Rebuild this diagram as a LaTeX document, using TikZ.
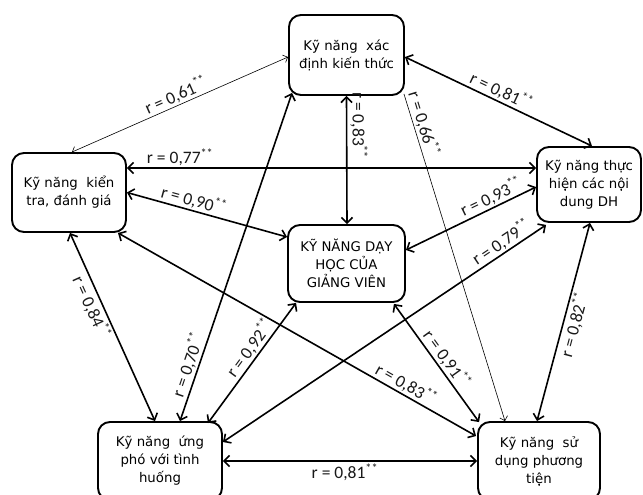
\documentclass[tikz,border=0pt]{standalone}
\usepackage{fontspec}
\setmainfont{DejaVu Sans}
\newfontfamily\labelfont{Carlito}
\usetikzlibrary{arrows.meta,calc}

\begin{document}
\begin{tikzpicture}[x=1pt,y=-1pt,
  box/.style={draw, line width=1.9pt, rounded corners=12pt, align=center,
    font=\fontsize{13.3}{18}\selectfont, inner sep=0pt},
  link/.style={line width=1.6pt, {Straight Barb[length=5.5pt,width=11pt]}-{Straight Barb[length=5.5pt,width=11pt]}},
  thinlinkboth/.style={line width=0.6pt, {Straight Barb[length=4pt,width=8pt]}-{Straight Barb[length=4pt,width=8pt]}},
  thinlinkone/.style={line width=0.6pt, -{Straight Barb[length=4pt,width=8pt]}},
  rlab/.style={font=\labelfont\fontsize{17.5}{17.5}\selectfont, sloped, inner sep=1.5pt, text=black!90}
]
% canvas
\fill[white] (0,0) rectangle (643,495);
\useasboundingbox (0,0) rectangle (643,495);

% skill boxes
\node[box, minimum width=115pt, minimum height=80pt] (T) at (346.5,55)
  {Kỹ năng\ \ xác\\định kiến thức};
\node[box, minimum width=114pt, minimum height=79pt] (L) at (69,192.5)
  {Kỹ năng\ \ kiển\\tra, đánh giá};
\node[box, minimum width=104pt, minimum height=75pt] (R) at (589,184.5)
  {Kỹ năng thực\\hiện các nội\\dung DH};
\node[box, minimum width=117pt, minimum height=77pt] (C) at (346.5,263.5)
  {KỸ NĂNG DẠY\\HỌC CỦA\\GIẢNG VIÊN};
\node[box, minimum width=124pt, minimum height=78pt] (BL) at (160,461)
  {Kỹ năng\ \ ứng\\phó với tình\\huống};
\node[box, minimum width=122pt, minimum height=78pt] (BR) at (539,461)
  {Kỹ năng\ \ sử\\dụng phương\\tiện};

% correlations
\draw[thinlinkboth] ($(L.north)+(3,0)$) -- node[rlab, above, pos=0.5] {r = 0,61\textsuperscript{**}} ($(T.west)+(0,2)$);
\draw[link] ($(L.east)+(0,-24.5)$) -- node[rlab, above, pos=0.13] {r = 0,77\textsuperscript{**}} ($(R.west)+(0,-16.5)$);
\draw[link] (L.east) -- node[rlab, above, pos=0.4] {r = 0,90\textsuperscript{**}} ($(C.west)+(0,-26.5)$);
\draw[link] ($(L.south)+(1,0)$) -- node[rlab, below, pos=0.37] {r = 0,84\textsuperscript{**}} ($(BL.north)+(-5,0)$);
\draw[link] ($(L.south)+(49,0)$) -- node[rlab, above, pos=0.79] {r = 0,83\textsuperscript{**}} ($(BR.west)+(-1,-25)$);
\draw[thinlinkone] ($(T.south east)+(-1,-2)$) -- node[rlab, above, pos=0.1] {r = 0,66\textsuperscript{**}} ($(BR.north)+(-34,0)$);
\draw[link] ($(BR.north)+(-2,0)$) -- node[rlab, below, pos=0.5] {r = 0,82\textsuperscript{**}} ($(R.south)+(1,0)$);
\draw[link] ($(T.east)+(0,2)$) -- node[rlab, above, pos=0.49] {r = 0,81\textsuperscript{**}} ($(R.north)+(3,0)$);
\draw[link] (T.south) -- node[rlab, above, pos=0.23, inner sep=3pt] {r = 0,83\textsuperscript{**}} ($(C.north)+(0.5,0)$);
\draw[link] ($(BL.north)+(20,0)$) -- node[rlab, above, pos=0.16] {r = 0,70\textsuperscript{**}} ($(T.south west)+(4,-3)$);
\draw[link] ($(BL.north east)+(-15,2)$) -- node[rlab, above, pos=0.57] {r = 0,92\textsuperscript{**}} ($(C.south west)+(9,0)$);
\draw[link] ($(C.east)+(0,-13.5)$) -- node[rlab, above, pos=0.69] {r = 0,93\textsuperscript{**}} ($(R.west)+(0,2.5)$);
\draw[link] ($(BL.east)+(0,-19)$) -- node[rlab, above, pos=0.88] {r = 0,79\textsuperscript{**}} ($(R.south west)+(10,2)$);
\draw[link] ($(C.south east)+(-12,1)$) -- node[rlab, above, pos=0.52] {r = 0,91\textsuperscript{**}} ($(BR.north west)+(2,1)$);
\draw[link] (BL.east) -- node[rlab, below, pos=0.48] {r = 0,81\textsuperscript{**}} (BR.west);
\end{tikzpicture}
\end{document}
